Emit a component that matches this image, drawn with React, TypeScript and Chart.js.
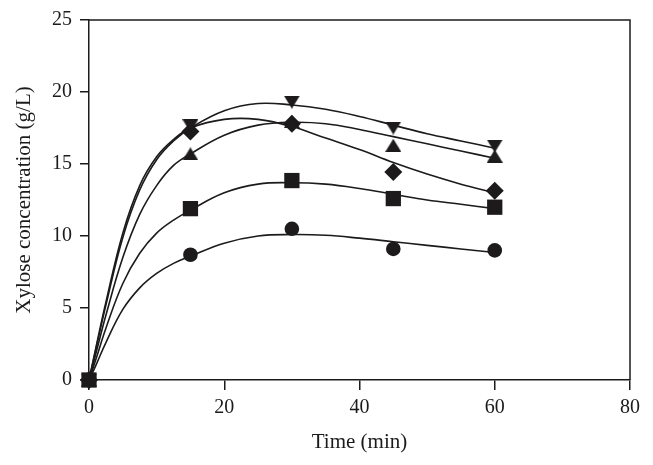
import React, { useEffect, useRef } from "react";
import { Chart, registerables } from "chart.js";

Chart.register(...registerables);

// Measured time points (min)
const timePoints = [0, 15, 30, 45, 60];
// Measured xylose concentrations (g/L)
const circleValues = [0, 8.7, 10.5, 9.1, 9.0];
const squareValues = [0, 11.9, 13.85, 12.6, 12.0];
const diamondValues = [0, 17.25, 17.8, 14.45, 13.15];
const triUpValues = [0, 15.7, 17.95, 16.3, 15.55];
const triDownValues = [0, 17.65, 19.3, 17.5, 16.25];

// Fitted curves
const curveTimes = [0, 1, 2.5, 5, 7.5, 10, 12.5, 15, 20, 25, 30, 35, 40, 45, 50, 55, 60];
const circleCurve = [0, 1.0, 2.6, 4.9, 6.4, 7.4, 8.1, 8.6, 9.5, 10.0, 10.1, 10.05, 9.85, 9.6, 9.35, 9.1, 8.85];
const squareCurve = [0, 1.4, 3.6, 6.7, 8.8, 10.2, 11.1, 11.8, 13.0, 13.6, 13.7, 13.6, 13.3, 12.9, 12.5, 12.2, 11.9];
const diamondCurve = [0, 2.2, 5.4, 10.2, 13.5, 15.5, 16.7, 17.5, 18.1, 18.1, 17.6, 16.8, 16.0, 15.1, 14.3, 13.6, 13.0];
const triUpCurve = [0, 1.8, 4.5, 8.5, 11.5, 13.5, 14.9, 15.7, 17.0, 17.7, 17.9, 17.8, 17.4, 16.9, 16.4, 15.9, 15.4];
const triDownCurve = [0, 2.1, 5.2, 9.9, 13.2, 15.3, 16.6, 17.5, 18.7, 19.2, 19.1, 18.8, 18.3, 17.7, 17.1, 16.6, 16.1];

const xTicks = [0, 20, 40, 60, 80];
const yTicks = [0, 5, 10, 15, 20, 25];

const INK = "#1c1a1b";
const FONT = "'Liberation Serif', 'DejaVu Serif', serif";

function makeTriangle(down: boolean): HTMLCanvasElement {
  const c = document.createElement("canvas");
  c.width = 16;
  c.height = 13;
  const ctx = c.getContext("2d")!;
  ctx.fillStyle = INK;
  ctx.beginPath();
  if (down) {
    ctx.moveTo(0, 0);
    ctx.lineTo(16, 0);
    ctx.lineTo(8, 13);
  } else {
    ctx.moveTo(8, 0);
    ctx.lineTo(16, 13);
    ctx.lineTo(0, 13);
  }
  ctx.closePath();
  ctx.fill();
  return c;
}

function pts(xs: number[], ys: number[]) {
  return xs.map((x, i) => ({ x, y: ys[i] }));
}

const frameBorder = {
  id: "frameBorder",
  beforeDatasetsDraw(chart: any) {
    const { ctx, chartArea } = chart;
    ctx.save();
    ctx.strokeStyle = INK;
    ctx.lineWidth = 1.5;
    ctx.beginPath();
    ctx.moveTo(chartArea.left, chartArea.top);
    ctx.lineTo(chartArea.right, chartArea.top);
    ctx.lineTo(chartArea.right, chartArea.bottom);
    ctx.stroke();
    ctx.restore();
  },
};

export default function App() {
  const ref = useRef<HTMLCanvasElement>(null);

  useEffect(() => {
    if (!ref.current) return;
    const triUp = makeTriangle(false);
    const triDown = makeTriangle(true);

    const marker = (label: string, values: number[], style: any, radius: number) => ({
      type: "scatter" as const,
      label,
      data: pts(timePoints, values),
      showLine: false,
      pointStyle: style,
      pointRadius: radius,
      pointBackgroundColor: INK,
      pointBorderColor: INK,
      pointBorderWidth: 0,
      clip: false as any,
    });
    const curve = (label: string, values: number[]) => ({
      type: "line" as const,
      label,
      data: pts(curveTimes, values),
      borderColor: INK,
      borderWidth: 1.6,
      pointRadius: 0,
      fill: false,
      tension: 0.4,
    });

    const chart = new Chart(ref.current, {
      type: "scatter",
      data: {
        datasets: [
          marker("▼", triDownValues, triDown, 6),
          marker("▲", triUpValues, triUp, 6),
          marker("◆", diamondValues, "rectRot", 9),
          marker("■", squareValues, "rect", 10.8),
          marker("●", circleValues, "circle", 7.3),
          curve("▼ fit", triDownCurve),
          curve("▲ fit", triUpCurve),
          curve("◆ fit", diamondCurve),
          curve("■ fit", squareCurve),
          curve("● fit", circleCurve),
        ] as any,
      },
      options: {
        animation: false,
        responsive: false,
        layout: { padding: { top: 20, right: 23, left: 0, bottom: 0 } },
        plugins: {
          legend: { display: false },
          tooltip: { enabled: false },
        },
        scales: {
          x: {
            type: "linear",
            min: 0,
            max: 80,
            afterBuildTicks: (scale: any) => {
              scale.ticks = xTicks.map((v) => ({ value: v }));
            },
            afterFit: (scale: any) => {
              scale.height = 85;
            },
            ticks: {
              color: INK,
              font: { family: FONT, size: 20 },
              padding: 6,
              maxRotation: 0,
            },
            grid: {
              drawOnChartArea: false,
              drawTicks: true,
              tickLength: 10,
              color: INK,
              lineWidth: 1.5,
            },
            border: { display: true, color: INK, width: 1.5 },
            title: {
              display: true,
              text: "Time (min)",
              color: INK,
              font: { family: FONT, size: 21 },
              padding: { top: 0, bottom: 10 },
            },
          },
          y: {
            type: "linear",
            min: 0,
            max: 25,
            afterBuildTicks: (scale: any) => {
              scale.ticks = yTicks.map((v) => ({ value: v }));
            },
            afterFit: (scale: any) => {
              scale.width = 89;
            },
            ticks: {
              color: INK,
              font: { family: FONT, size: 20 },
              padding: 8,
            },
            grid: {
              drawOnChartArea: false,
              drawTicks: true,
              tickLength: 9,
              color: INK,
              lineWidth: 1.5,
            },
            border: { display: true, color: INK, width: 1.5 },
            title: {
              display: true,
              text: "Xylose concentration (g/L)",
              color: INK,
              font: { family: FONT, size: 21 },
              padding: { top: 12, bottom: 0 },
            },
          },
        },
      },
      plugins: [frameBorder],
    });
    return () => chart.destroy();
  }, []);

  return (
    <div style={{ position: "fixed", left: 0, top: 0, width: 653, height: 465, background: "#fff" }}>
      <canvas ref={ref} width={653} height={465} style={{ display: "block" }} />
    </div>
  );
}
